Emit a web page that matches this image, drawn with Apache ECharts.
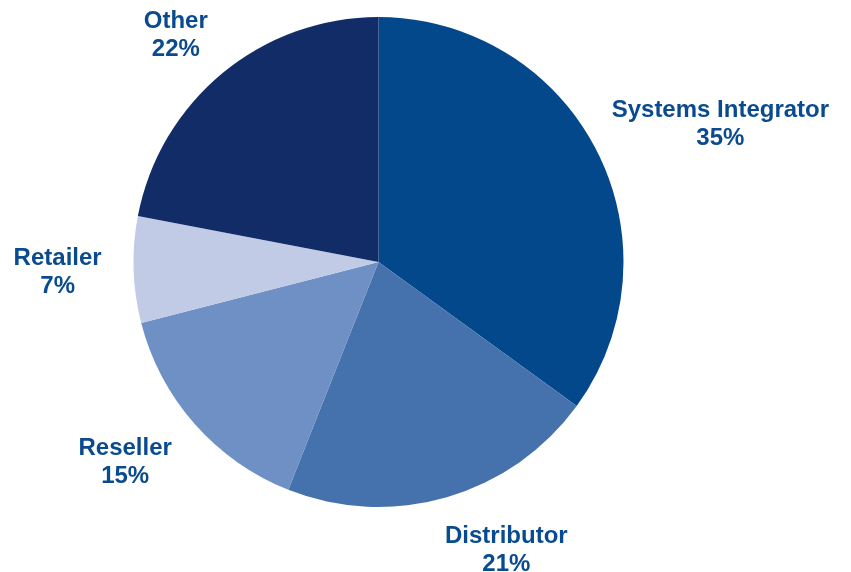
<!DOCTYPE html>
<html>
<head>
<meta charset="utf-8">
<script src="https://cdn.jsdelivr.net/npm/echarts@6/dist/echarts.min.js"></script>
<style>
  html, body { margin: 0; padding: 0; background: #ffffff; }
  #chart { width: 851px; height: 572px; }
</style>
</head>
<body>
<div id="chart"></div>
<script>
// Channel mix, percent of total
const categories = ['Systems Integrator', 'Distributor', 'Reseller', 'Retailer', 'Other'];
const shares = [35, 21, 15, 7, 22];
const sliceColors = ['#04488c', '#4571ad', '#6f90c5', '#c1cbe6', '#112c67'];

const CX = 378.5, CY = 262, R = 245, GAP = 30;
// Small per-label pixel nudges applied after the radial placement
const labelNudge = [[0, 0], [34, -3], [-12, 0], [-2, 1], [-7, 7]];
const total = shares.reduce((a, b) => a + b, 0);

// Mid-angle of each slice (degrees clockwise from 12 o'clock)
const midAngles = [];
let acc = 0;
shares.forEach(v => { midAngles.push((acc + v / 2) / total * 360); acc += v; });

const chart = echarts.init(document.getElementById('chart'), null, { renderer: 'canvas' });
chart.setOption({
  animation: false,
  series: [{
    type: 'pie',
    center: [CX, CY],
    radius: R,
    startAngle: 90,
    clockwise: true,
    data: categories.map((name, i) => ({
      name, value: shares[i], itemStyle: { color: sliceColors[i] }
    })),
    label: {
      show: true,
      position: 'outside',
      alignTo: 'none',
      overflow: 'none',
      bleedMargin: 0,
      edgeDistance: 0,
      formatter: p => p.name + '\n' + p.value + '%',
      color: '#0a4b8f',
      fontFamily: '"Liberation Sans", Arial, sans-serif',
      fontWeight: 'bold',
      fontSize: 24,
      lineHeight: 28,
      align: 'center'
    },
    labelLine: { show: false },
    // Place each label just beyond the rim, pushed outward by half its box
    labelLayout: function (params) {
      const i = params.dataIndex;
      const a = midAngles[i] * Math.PI / 180;
      const dx = Math.sin(a), dy = -Math.cos(a);
      const w = params.labelRect.width, h = params.labelRect.height;
      return {
        x: CX + (R + GAP) * dx + dx * w / 2 + labelNudge[i][0],
        y: CY + (R + GAP) * dy + dy * h / 2 + labelNudge[i][1],
        align: 'center',
        verticalAlign: 'middle'
      };
    }
  }]
});
</script>
</body>
</html>
